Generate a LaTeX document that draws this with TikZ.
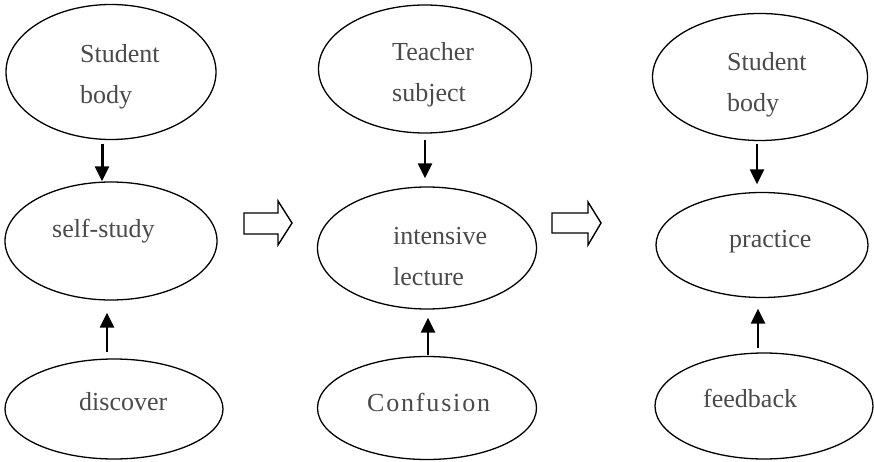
\documentclass[tikz,border=0pt]{standalone}
\usepackage{fontspec}
\setmainfont{Liberation Serif}
\usetikzlibrary{shapes.geometric,arrows.meta}
\definecolor{txt}{HTML}{4A4A4A}
\tikzset{
  x=1pt, y=-1pt,
  oval/.style={draw, ellipse, line width=1.3pt, inner sep=0pt},
  lbl/.style={text=txt, font=\fontsize{26}{41}\selectfont, inner sep=0pt, anchor=base west, align=left},
  varr/.style={line width=2.3pt, -{Triangle[length=15pt,width=14pt]}},
  openarr/.style={draw, line width=1.4pt, line join=miter}
}
\begin{document}
\begin{tikzpicture}
\useasboundingbox (0,0) rectangle (874,462);
% column 1
\node[oval, minimum width=210pt, minimum height=135pt] (e1t) at (111,72) {};
\node[oval, minimum width=212pt, minimum height=118pt] (e1m) at (111,241) {};
\node[oval, minimum width=218pt, minimum height=100pt] (e1b) at (114,409) {};
% column 2
\node[oval, minimum width=213pt, minimum height=128pt] (e2t) at (425,69) {};
\node[oval, minimum width=219pt, minimum height=122pt] (e2m) at (427,248) {};
\node[oval, minimum width=219pt, minimum height=103pt] (e2b) at (427,408) {};
% column 3
\node[oval, minimum width=215pt, minimum height=127pt] (e3t) at (760,77) {};
\node[oval, minimum width=212pt, minimum height=105pt] (e3m) at (762,245) {};
\node[oval, minimum width=218pt, minimum height=106pt] (e3b) at (764,406) {};
% labels (base anchor = baseline of the last line)
\node[lbl] (t1t) at (80,104) {Student\\body};
\node[lbl] (t1m) at (52,237) {self-study};
\node[lbl] (t1b) at (79,410) {discover};
\node[lbl] (t2t) at (392,102) {Teacher\\subject};
\node[lbl] (t2m) at (393,285) {intensive\\lecture};
\node[lbl] (t2b) at (367,411) {\addfontfeature{LetterSpace=7}Confusion};
\node[lbl] (t3t) at (727,112) {Student\\body};
\node[lbl] (t3m) at (729,247) {practice};
\node[lbl] (t3b) at (703,407) {feedback};
% vertical arrows
\draw[varr, line width=3pt, shorten <=3.5pt] ([xshift=-9pt]e1t.south) -- ([xshift=-9pt]e1t.south |- e1m.north);
\draw[varr, shorten <=6pt, shorten >=12pt] ([xshift=-7pt]e1b.north) -- ([xshift=-7pt]e1b.north |- e1m.south);
\draw[varr, shorten <=6pt, shorten >=8pt] (e2t.south) -- (e2t.south |- e2m.north);
\draw[varr, shorten <=0.5pt, shorten >=8pt] ([xshift=1pt]e2b.north) -- ([xshift=1pt]e2b.north |- e2m.south);
\draw[varr, shorten <=2.5pt, shorten >=7.5pt] ([xshift=-3pt]e3t.south) -- ([xshift=-3pt]e3t.south |- e3m.north);
\draw[varr, shorten <=4pt, shorten >=10.5pt] ([xshift=-6pt]e3b.north) -- ([xshift=-6pt]e3b.north |- e3m.south);
% open block arrows between columns
\draw[openarr] (244,213) -- (278,213) -- (278,201) -- (292,223) -- (278,245) -- (278,234) -- (244,234) -- cycle;
\draw[openarr] (552,213) -- (588,213) -- (588,202) -- (601,223) -- (588,245) -- (588,233) -- (552,233) -- cycle;
\end{tikzpicture}
\end{document}
